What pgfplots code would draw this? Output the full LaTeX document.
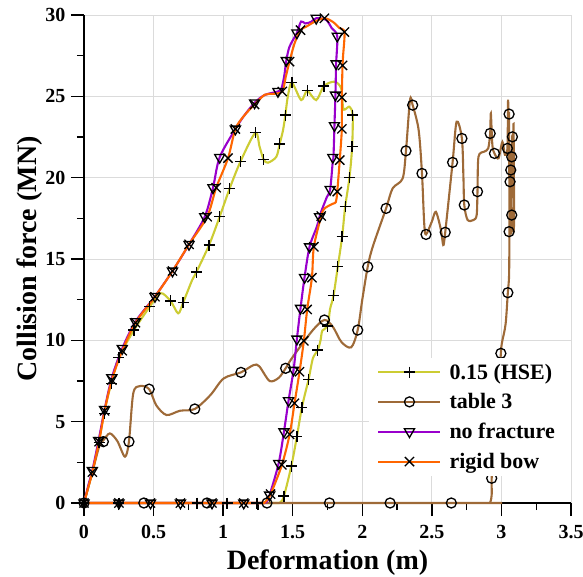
\documentclass[border=0pt]{standalone}
\usepackage{pgfplots}
\pgfplotsset{compat=1.18}
\usepackage{fontspec}
\setmainfont{Liberation Serif}
\definecolor{colHSE}{RGB}{204,204,51}
\definecolor{colTab}{RGB}{158,106,56}
\definecolor{colNof}{RGB}{153,0,204}
\definecolor{colRig}{RGB}{255,102,0}
\begin{document}
\begin{tikzpicture}
\begin{axis}[
  at={(0,0)}, anchor=south west,
  scale only axis, width=487bp, height=488bp,
  xmin=0, xmax=3.5, ymin=0, ymax=30,
  clip=false,
  axis lines=left, axis line style={-, line width=1.6bp, black},
  xtick={0,0.5,1,1.5,2,2.5,3,3.5}, ytick={0,5,10,15,20,25,30},
  minor x tick num=1, minor y tick num=1,
  tick align=outside, major tick length=13bp, minor tick length=7bp,
  every tick/.style={black, line width=1.3bp},
  grid=major, major grid style={line width=0.9bp, black!14},
  /pgf/number format/assume math mode=true,
  tick label style={font=\fontsize{20bp}{24bp}\selectfont\bfseries},
  xticklabel style={anchor=north, yshift=-6bp},
  yticklabel style={anchor=east, xshift=-2bp},
  xlabel={Deformation (m)}, ylabel={Collision force (MN)},
  every axis x label/.style={at={(axis description cs:0.5,-0.122)}, anchor=center, font=\fontsize{28bp}{32bp}\selectfont\bfseries},
  every axis y label/.style={at={(axis description cs:-0.111,0.5)}, anchor=center, rotate=90, font=\fontsize{28bp}{32bp}\selectfont\bfseries},
  legend style={at={(axis description cs:1,0.055)}, anchor=south east, draw=none, fill=white,
    font=\fontsize{22bp}{25bp}\selectfont\bfseries, row sep=9bp, inner xsep=8bp, inner ysep=4bp,
    nodes={inner xsep=8bp}},
  legend cell align=left,
]
% ---- lines ----
\addplot[draw=colHSE, line width=2.1bp, smooth, tension=0.5,
  legend image code/.code={\draw[draw=colHSE, line width=2.1bp] (0bp,0bp) -- (62bp,0bp); \path[draw=black, line width=1.3bp] plot[mark=+, mark size=5.5bp] coordinates {(31bp,0bp)};}] coordinates {
(0,0)(0.06,1.9)(0.108,3.77)(0.148,5.67)(0.2,7.5)(0.251,8.95)(0.359,10.63)(0.473,12.07)(0.55,12.9)(0.622,12.42)(0.677,11.66)(0.712,12.31)(0.777,13.7)(0.808,14.2)(0.899,15.86)(0.975,17.6)(1.047,19.34)(1.124,20.98)(1.231,22.76)(1.262,21.9)(1.291,21.12)(1.322,20.92)(1.382,21.28)(1.406,22.07)(1.43,22.9)(1.447,23.85)(1.465,25.0)(1.494,25.84)(1.561,24.77)(1.604,25.34)(1.669,24.77)(1.724,25.63)(1.80,25.9)(1.848,25.49)(1.862,24.3)(1.878,24.2)(1.908,24.36)(1.931,23.85)(1.927,21.9)(1.908,20.02)(1.877,18.21)(1.855,16.37)(1.824,14.52)(1.793,12.74)(1.768,11.9)(1.752,10.88)(1.713,10.6)(1.70,10.0)(1.68,9.4)(1.645,8.89)(1.614,7.6)(1.566,5.88)(1.53,4.08)(1.49,2.27)(1.437,0.43)(1.41,0.03)(1.38,0)(1.3,0)(0,0)};
\addlegendentry{0.15 (HSE)}
\addplot[draw=colTab, line width=2.1bp, smooth, tension=0.5,
  legend image code/.code={\draw[draw=colTab, line width=2.1bp] (0bp,0bp) -- (62bp,0bp); \path[draw=black, line width=1.3bp] plot[mark=o, mark size=5bp] coordinates {(31bp,0bp)};}] coordinates {
(0,0)(0.06,1.9)(0.11,3.5)(0.139,3.85)(0.186,4.28)(0.24,3.8)(0.294,2.85)(0.323,3.77)(0.354,6.74)(0.402,7.19)(0.468,7.0)(0.52,6.0)(0.593,5.41)(0.689,5.67)(0.796,5.78)(0.909,6.64)(1.004,7.66)(1.128,8.03)(1.219,8.48)(1.26,8.4)(1.334,7.5)(1.40,7.7)(1.449,8.28)(1.501,8.99)(1.645,10.63)(1.728,11.25)(1.788,10.84)(1.85,9.9)(1.92,9.57)(1.967,10.63)(2.0,12.5)(2.039,14.52)(2.075,15.75)(2.171,18.11)(2.218,19.34)(2.29,19.95)(2.314,21.65)(2.343,24.77)(2.362,24.46)(2.405,22.93)(2.429,20.26)(2.445,17.19)(2.458,16.51)(2.5,17.3)(2.529,17.9)(2.565,16.8)(2.582,15.86)(2.596,16.64)(2.649,20.94)(2.678,23.44)(2.716,22.41)(2.727,20.0)(2.733,18.32)(2.757,17.4)(2.80,17.4)(2.822,17.7)(2.828,19.14)(2.835,21.28)(2.876,21.6)(2.905,21.8)(2.919,22.72)(2.924,23.95)(2.935,22.0)(2.95,21.49)(2.979,21.19)(3.007,22.2)(3.025,21.4)(3.043,21.8)(3.048,24.8)(3.053,22.0)(3.055,23.91)(3.058,17.0)(3.062,19.75)(3.067,21.5)(3.07,16.5)(3.074,21.28)(3.079,22.51)(3.082,19.0)(3.087,23.3)(3.09,17.0)(3.074,17.7)(3.065,20.47)(3.058,16.68)(3.055,14.0)(3.046,12.93)(3.03,11.0)(3.003,9.82)(2.996,9.2)(2.98,7.0)(2.96,5.0)(2.94,3.0)(2.93,1.52)(2.93,0.5)(2.92,0.05)(2.9,0)(2.8,0)(0,0)};
\addlegendentry{table 3}
\addplot[draw=colNof, line width=2.1bp, smooth, tension=0.5,
  legend image code/.code={\draw[draw=colNof, line width=2.1bp] (0bp,0bp) -- (62bp,0bp); \path[draw=black, line width=1.3bp] plot[mark=triangle, mark size=5.8bp, mark options={rotate=180}] coordinates {(31bp,0bp)};}] coordinates {
(0,0)(0.03,1.05)(0.06,2.0)(0.105,3.85)(0.148,5.75)(0.2,7.7)(0.275,9.5)(0.37,11.15)(0.51,12.7)(0.636,14.26)(0.755,15.9)(0.868,17.6)(0.927,19.38)(0.975,21.25)(1.088,22.99)(1.15,23.8)(1.226,24.6)(1.298,25.08)(1.394,25.3)(1.42,25.5)(1.44,26.3)(1.454,27.2)(1.477,28.05)(1.53,28.9)(1.56,29.6)(1.59,29.48)(1.633,29.58)(1.669,29.8)(1.74,29.7)(1.78,29.2)(1.82,28.7)(1.812,27.0)(1.807,25.08)(1.80,23.2)(1.793,21.3)(1.788,21.0)(1.769,19.28)(1.745,18.8)(1.70,17.8)(1.674,17.0)(1.621,15.75)(1.585,13.87)(1.556,11.97)(1.53,10.08)(1.506,8.17)(1.47,6.29)(1.437,4.38)(1.399,2.44)(1.334,0.49)(1.31,0.05)(1.28,0)(1.2,0)(0,0)};
\addlegendentry{no fracture}
\addplot[draw=colRig, line width=2.1bp, smooth, tension=0.5,
  legend image code/.code={\draw[draw=colRig, line width=2.1bp] (0bp,0bp) -- (62bp,0bp); \path[draw=black, line width=1.3bp] plot[mark=x, mark size=6.5bp] coordinates {(31bp,0bp)};}] coordinates {
(0,0)(0.03,0.95)(0.06,1.9)(0.108,3.77)(0.148,5.67)(0.2,7.56)(0.275,9.36)(0.37,11.08)(0.51,12.68)(0.636,14.26)(0.755,15.9)(0.885,17.6)(0.95,19.38)(1.035,21.2)(1.088,22.99)(1.15,23.8)(1.226,24.5)(1.30,25.1)(1.36,25.15)(1.425,25.3)(1.45,26.2)(1.477,27.13)(1.513,28.25)(1.556,29.07)(1.597,29.28)(1.657,29.58)(1.728,29.8)(1.788,29.58)(1.835,29.2)(1.872,28.95)(1.862,27.5)(1.858,26.9)(1.853,24.93)(1.853,23.0)(1.838,21.08)(1.82,19.14)(1.81,18.5)(1.788,18.4)(1.728,18.1)(1.705,17.64)(1.652,15.75)(1.638,13.85)(1.604,11.9)(1.58,9.97)(1.549,8.07)(1.513,6.13)(1.478,4.22)(1.422,2.34)(1.341,0.55)(1.30,0.05)(1.27,0)(1.2,0)(0,0)};
\addlegendentry{rigid bow}
% ---- markers ----
\addplot[only marks, forget plot, mark=+, mark size=5.5bp, mark options={black, line width=1.3bp}] coordinates {
(0,0)(0.108,3.7)(0.148,5.5)(0.2,7.35)(0.251,8.95)(0.359,10.63)(0.473,12.07)(0.622,12.42)(0.712,12.31)(0.808,14.2)(0.899,15.86)(0.975,17.6)(1.047,19.34)(1.124,20.98)(1.231,22.76)(1.291,21.12)(1.406,22.07)(1.447,23.85)(1.494,25.84)(1.604,25.34)(1.724,25.63)(1.931,23.85)(1.927,21.9)(1.908,20.02)(1.877,18.21)(1.855,16.37)(1.824,14.52)(1.793,12.74)(1.752,10.88)(1.68,9.4)(1.614,7.6)(1.566,5.88)(1.53,4.08)(1.49,2.27)(1.437,0.43)(1.243,0)(1.028,0)(0.813,0)(0.251,0)};
\addplot[only marks, forget plot, mark=o, mark size=5bp, mark options={black, line width=1.3bp}] coordinates {
(0,0)(0.139,3.77)(0.323,3.77)(0.468,7.0)(0.796,5.78)(1.128,8.03)(1.449,8.28)(1.728,11.25)(1.967,10.63)(2.039,14.52)(2.171,18.11)(2.314,21.65)(2.362,24.46)(2.429,20.26)(2.458,16.51)(2.596,16.64)(2.649,20.94)(2.716,22.41)(2.733,18.32)(2.828,19.14)(2.919,22.72)(2.95,21.49)(3.043,21.8)(3.055,23.91)(3.079,22.51)(3.074,21.28)(3.067,20.47)(3.062,19.75)(3.074,17.7)(3.055,16.68)(3.046,12.93)(2.996,9.2)(2.93,1.52)(2.64,0)(2.2,0)(1.764,0)(1.315,0)(0.884,0)(0.43,0)};
\addplot[only marks, forget plot, mark=triangle, mark size=5.8bp, mark options={black, line width=1.3bp, rotate=180}] coordinates {
(0,0)(0.06,2.0)(0.105,3.85)(0.148,5.75)(0.2,7.7)(0.275,9.5)(0.37,11.15)(0.51,12.7)(0.636,14.26)(0.755,15.9)(0.868,17.6)(0.927,19.38)(0.975,21.25)(1.088,22.99)(1.226,24.6)(1.394,25.3)(1.454,27.2)(1.53,28.9)(1.669,29.8)(1.82,28.7)(1.812,27.0)(1.807,25.08)(1.80,23.2)(1.788,21.25)(1.769,19.28)(1.693,17.6)(1.621,15.75)(1.585,13.87)(1.556,11.97)(1.53,10.08)(1.506,8.17)(1.47,6.29)(1.437,4.38)(1.399,2.44)(1.334,0.49)(1.148,0)(0.92,0)(0.693,0)(0.478,0)(0.251,0)};
\addplot[only marks, forget plot, mark=x, mark size=6.5bp, mark options={black, line width=1.3bp}] coordinates {
(0,0)(0.06,1.9)(0.108,3.77)(0.148,5.67)(0.2,7.56)(0.275,9.36)(0.37,11.08)(0.51,12.68)(0.636,14.26)(0.755,15.9)(0.885,17.6)(0.95,19.38)(1.035,21.2)(1.088,22.99)(1.226,24.5)(1.425,25.3)(1.477,27.13)(1.556,29.07)(1.728,29.8)(1.872,28.95)(1.858,26.9)(1.853,24.93)(1.853,23.0)(1.838,21.08)(1.82,19.14)(1.705,17.64)(1.652,15.75)(1.638,13.85)(1.604,11.9)(1.58,9.97)(1.549,8.07)(1.513,6.13)(1.478,4.22)(1.422,2.34)(1.341,0.55)(1.148,0)(0.92,0)(0.693,0)(0.478,0)(0.251,0)};
\end{axis}
\pgfresetboundingbox
\path[use as bounding box] (-84bp,-74bp) rectangle (499bp,503bp);
\end{tikzpicture}
\end{document}
